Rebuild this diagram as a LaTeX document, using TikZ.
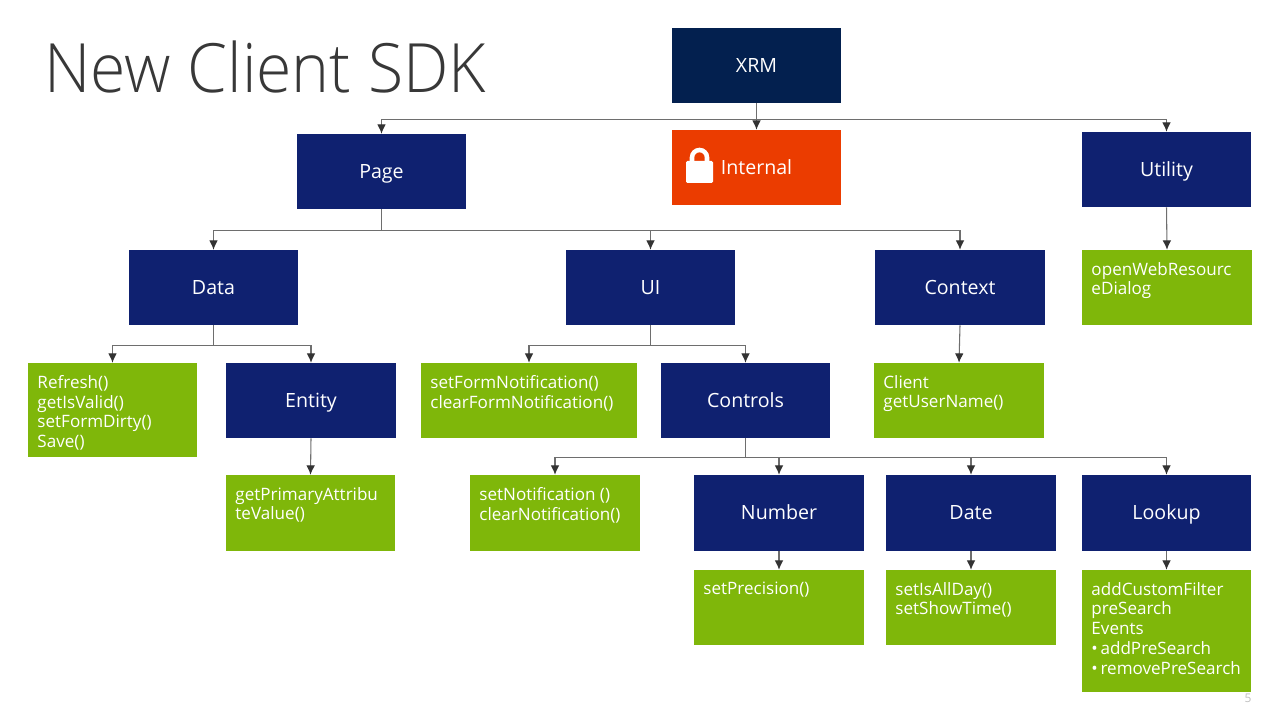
\documentclass[tikz,border=0pt]{standalone}
\usepackage{fontspec}
\setmainfont{Open Sans}
\newfontfamily\lightf[FakeStretch=0.945]{Open Sans Light}
\definecolor{navy}{HTML}{0F2170}
\definecolor{deepnavy}{HTML}{03204F}
\definecolor{leaf}{HTML}{7FB70A}
\definecolor{flame}{HTML}{EB3C00}
\definecolor{busgray}{HTML}{6E6E6E}
\definecolor{tipdark}{HTML}{333333}
\newcommand{\pxbox}[7]{%
  \pgfmathsetlengthmacro{\bw}{(#5-#3)*0.75pt}%
  \pgfmathsetlengthmacro{\bh}{(#6-#4)*0.75pt}%
  \node[#1,minimum width=\bw,minimum height=\bh] (#2) at ({(#3+#5)/2},{(#4+#6)/2}) {#7};}
\newcommand{\leafbox}[6]{%
  \pgfmathsetlengthmacro{\bw}{(#4-#2)*0.75pt}%
  \pgfmathsetlengthmacro{\bh}{(#5-#3)*0.75pt}%
  \pgfmathsetlengthmacro{\tw}{(#4-#2-15)*0.75pt}%
  \node[leafstyle,minimum width=\bw,minimum height=\bh,inner sep=0pt] (#1) at ({(#2+#4)/2},{(#3+#5)/2})
    {\parbox[c][\bh][t]{\bw}{\vspace*{9.2pt}\hspace*{7.1pt}\parbox[t]{\tw}{\raggedright #6}}};}
\tikzset{
  x=0.75pt,y=-0.75pt,
  basebox/.style={rectangle,draw=none,text=white,inner sep=0pt,text height=12pt,text depth=2pt,font=\fontsize{14.7}{17}\selectfont},
  navybox/.style={basebox,fill=navy},
  rootbox/.style={basebox,fill=deepnavy},
  hotbox/.style={basebox,fill=flame},
  leafstyle/.style={rectangle,draw=none,fill=leaf,text=white,font=\fontsize{12.8}{14.8}\selectfont},
  conn/.style={draw=busgray,line width=0.8pt,-{Latex[length=7pt,width=6.5pt,color=tipdark]}},
  titletext/.style={font=\lightf\fontsize{51}{60}\selectfont,text=black!78,inner sep=0pt,anchor=base west},
  pagenum/.style={font=\fontsize{9}{10}\selectfont,text=black!25,inner sep=0pt}
}
\usetikzlibrary{arrows.meta}
\begin{document}
\begin{tikzpicture}
\useasboundingbox[fill=white] (0,0) rectangle (1280,720);
\node[titletext] (title) at (44,93) {New Client SDK};
\node[pagenum] (pnum) at (1248,698) {5};
\pxbox{rootbox}{xrm}{672}{28}{841}{103}{XRM}
\pxbox{hotbox}{internal}{672}{130}{841}{205}{Internal}
\pxbox{navybox}{utility}{1082}{132}{1251}{207}{Utility}
\pxbox{navybox}{page}{297}{134}{466}{209}{Page}
\pxbox{navybox}{data}{129}{250}{298}{325}{Data}
\pxbox{navybox}{ui}{566}{250}{735}{325}{UI}
\pxbox{navybox}{context}{875}{250}{1045}{325}{Context}
\leafbox{openweb}{1082}{250}{1252}{325}{openWebResourc\\eDialog}
\leafbox{refresh}{28}{363}{197}{457}{Refresh()\\getIsValid()\\setFormDirty()\\Save()}
\pxbox{navybox}{entity}{226}{363}{396}{438}{Entity}
\leafbox{setform}{421}{363}{637}{438}{setFormNotification()\\clearFormNotification()}
\pxbox{navybox}{controls}{661}{363}{830}{438}{Controls}
\leafbox{client}{874}{363}{1044}{438}{Client\\getUserName()}
\leafbox{primary}{226}{475}{395}{551}{getPrimaryAttribu\\teValue()}
\leafbox{setnote}{470}{475}{640}{551}{setNotification ()\\clearNotification()}
\pxbox{navybox}{number}{694}{475}{864}{551}{Number}
\pxbox{navybox}{date}{886}{475}{1056}{551}{Date}
\pxbox{navybox}{lookup}{1082}{475}{1251}{551}{Lookup}
\leafbox{precision}{694}{570}{864}{645}{setPrecision()}
\leafbox{allday}{886}{570}{1056}{645}{setIsAllDay()\\setShowTime()}
\leafbox{custom}{1082}{570}{1251}{692}{addCustomFilter\\preSearch\\Events\\•\kern2pt addPreSearch\\•\kern2pt removePreSearch}
% lock icon
\fill[white,rounded corners=1pt] (686,161) rectangle (713,183);
\draw[white,line width=3.4pt] (692,163) -- (692,157.5) arc[start angle=180,end angle=360,radius=7.5] -- (707,163);
% connectors
\draw[conn] (xrm.south) -- (internal.north);
\draw[conn] (xrm.south) -- ++(0,16) -| (page.north);
\draw[conn] (xrm.south) -- ++(0,16) -| (utility.north);
\draw[conn] (page.south) -- ++(0,21) -| (data.north);
\draw[conn] (page.south) -- ++(0,21) -| (ui.north);
\draw[conn] (page.south) -- ++(0,21) -| (context.north);
\draw[conn] (utility.south) -- (openweb.north);
\draw[conn] (data.south) -- ++(0,20) -| (refresh.north);
\draw[conn] (data.south) -- ++(0,20) -| (entity.north);
\draw[conn] (ui.south) -- ++(0,20) -| (setform.north);
\draw[conn] (ui.south) -- ++(0,20) -| (controls.north);
\draw[conn] (context.south) -- (client.north);
\draw[conn] (entity.south) -- (primary.north);
\draw[conn] (controls.south) -- ++(0,19) -| (setnote.north);
\draw[conn] (controls.south) -- ++(0,19) -| (number.north);
\draw[conn] (controls.south) -- ++(0,19) -| (date.north);
\draw[conn] (controls.south) -- ++(0,19) -| (lookup.north);
\draw[conn] (number.south) -- (precision.north);
\draw[conn] (date.south) -- (allday.north);
\draw[conn] (lookup.south) -- (custom.north);
\end{tikzpicture}
\end{document}
